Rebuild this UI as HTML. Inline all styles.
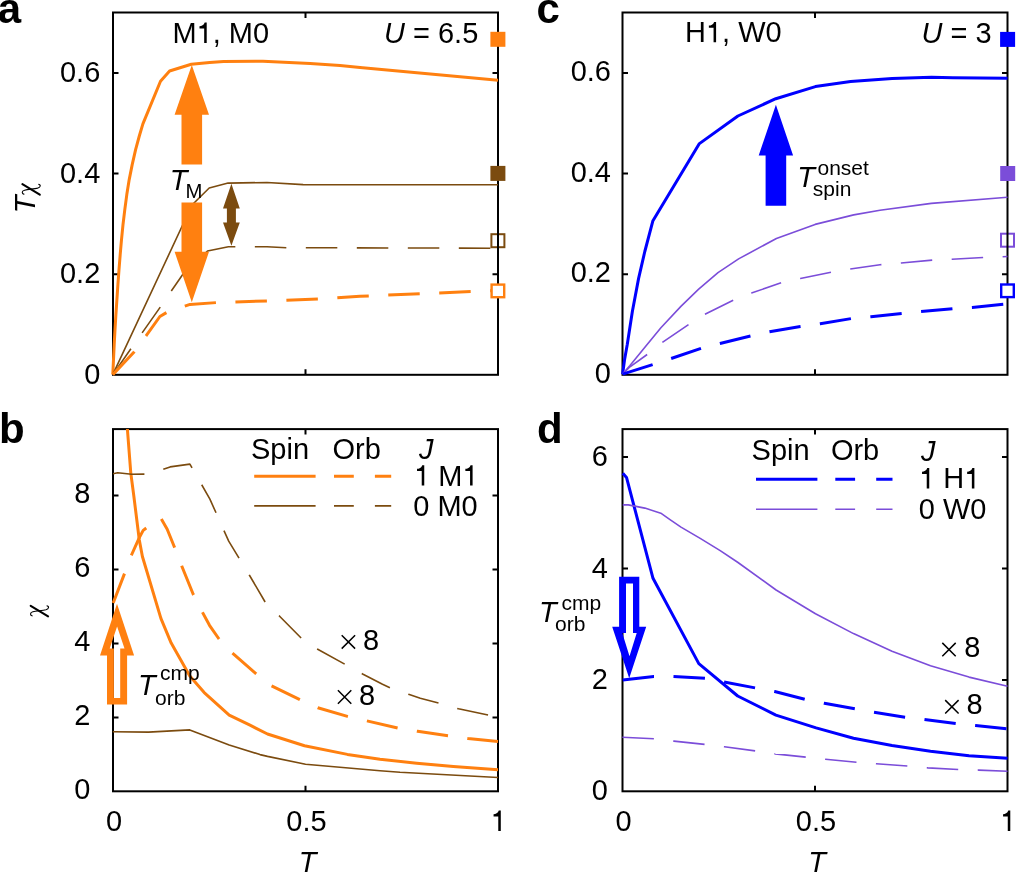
<!DOCTYPE html>
<html><head><meta charset="utf-8"><style>
html,body{margin:0;padding:0;background:#fff;overflow:hidden}
svg{display:block;will-change:transform}
text{font-family:"Liberation Sans", sans-serif;fill:#000}
</style></head><body>
<svg width="1016" height="873" viewBox="0 0 1016 873">
<rect width="1016" height="873" fill="#fff"/>
<defs>
<clipPath id="cb"><rect x="100" y="428.9" width="410" height="380"/></clipPath>
</defs>
<rect x="491.4" y="234.2" width="13" height="13" fill="none" stroke="#7b4b0f" stroke-width="2"/>
<rect x="1001" y="233.7" width="13" height="13" fill="none" stroke="#7b4dd9" stroke-width="2"/>
<rect x="113.0" y="12.5" width="385.0" height="362.3" fill="none" stroke="#000" stroke-width="2"/>
<path d="M113.0,274.2 h5.5 M498.0,274.2 h-5.5" stroke="#000" stroke-width="2"/>
<path d="M113.0,173.6 h5.5 M498.0,173.6 h-5.5" stroke="#000" stroke-width="2"/>
<path d="M113.0,72.9 h5.5 M498.0,72.9 h-5.5" stroke="#000" stroke-width="2"/>
<path d="M305.5,374.8 v-5.5 M305.5,12.5 v5.5" stroke="#000" stroke-width="2"/>
<rect x="622.5" y="12.5" width="385.0" height="362.3" fill="none" stroke="#000" stroke-width="2"/>
<path d="M622.5,274.2 h5.5 M1007.5,274.2 h-5.5" stroke="#000" stroke-width="2"/>
<path d="M622.5,173.6 h5.5 M1007.5,173.6 h-5.5" stroke="#000" stroke-width="2"/>
<path d="M622.5,72.9 h5.5 M1007.5,72.9 h-5.5" stroke="#000" stroke-width="2"/>
<path d="M815.0,374.8 v-5.5 M815.0,12.5 v5.5" stroke="#000" stroke-width="2"/>
<rect x="113.0" y="429.1" width="385.0" height="362.2" fill="none" stroke="#000" stroke-width="2"/>
<path d="M113.0,717.4 h5.5 M498.0,717.4 h-5.5" stroke="#000" stroke-width="2"/>
<path d="M113.0,643.4 h5.5 M498.0,643.4 h-5.5" stroke="#000" stroke-width="2"/>
<path d="M113.0,569.5 h5.5 M498.0,569.5 h-5.5" stroke="#000" stroke-width="2"/>
<path d="M113.0,495.5 h5.5 M498.0,495.5 h-5.5" stroke="#000" stroke-width="2"/>
<path d="M305.5,791.3 v-5.5 M305.5,429.1 v5.5" stroke="#000" stroke-width="2"/>
<rect x="622.5" y="429.1" width="385.0" height="362.2" fill="none" stroke="#000" stroke-width="2"/>
<path d="M622.5,679.9 h5.5 M1007.5,679.9 h-5.5" stroke="#000" stroke-width="2"/>
<path d="M622.5,568.5 h5.5 M1007.5,568.5 h-5.5" stroke="#000" stroke-width="2"/>
<path d="M622.5,457.1 h5.5 M1007.5,457.1 h-5.5" stroke="#000" stroke-width="2"/>
<path d="M815.0,791.3 v-5.5 M815.0,429.1 v5.5" stroke="#000" stroke-width="2"/>
<path d="M112.8,374.6 L113.5,359.6 L114.2,344.6 L115.0,329.6 L115.9,314.6 L116.9,299.6 L117.9,284.6 L119.0,269.6 L120.2,254.6 L121.5,239.6 L123.0,224.6 L124.8,209.6 L126.8,194.6 L129.2,179.6 L132.2,164.6 L135.6,149.6 L139.3,136.0 L142.9,123.9 L160.5,81.2 L169.6,71.0 L191.3,64.3 L209.7,62.6 L223.6,61.6 L263.0,61.3 L310.2,63.6 L340.0,65.4 L360.0,67.6 L498.0,80.2" fill="none" stroke="#ff8010" stroke-width="3.00" stroke-linejoin="round"/>
<path d="M112.8,374.6 L192.0,205.0 L209.2,188.0 L228.1,183.1 L267.0,182.5 L303.1,184.6 L498.0,184.8" fill="none" stroke="#7b4b0f" stroke-width="1.60" stroke-linejoin="round"/>
<path d="M112.8,374.6 L160.4,306.9 L182.2,275.2 L207.5,251.0 L228.4,246.8 L267.0,246.8 L286.8,247.7 L498.0,248.2" fill="none" stroke="#7b4b0f" stroke-width="1.60" stroke-linejoin="round" stroke-dasharray="31.5 19.5" stroke-dashoffset="0.0"/>
<path d="M112.8,374.6 L134.3,351.7 L146.2,335.7 L159.9,316.5 L166.8,312.4 L190.0,304.4 L216.3,302.6 L267.0,300.9 L318.6,298.9 L360.0,296.3 L420.8,293.7 L498.0,290.3" fill="none" stroke="#ff8010" stroke-width="3.00" stroke-linejoin="round" stroke-dasharray="31.5 19.5" stroke-dashoffset="0.0"/>
<path d="M622.6,374.3 L624.5,360.0 L627.3,344.3 L632.4,311.3 L638.6,278.4 L644.8,251.5 L652.8,221.1 L699.4,143.6 L737.9,116.0 L775.8,98.7 L815.4,86.6 L850.6,81.5 L892.2,78.6 L931.5,77.2 L952.9,77.7 L1007.5,78.2" fill="none" stroke="#0000ff" stroke-width="3.00" stroke-linejoin="round"/>
<path d="M622.6,374.1 L630.0,365.5 L645.1,346.9 L660.9,327.7 L680.9,306.4 L698.7,289.2 L718.0,272.7 L738.6,258.9 L776.4,238.5 L815.1,224.4 L853.7,214.9 L880.0,210.3 L931.3,203.4 L1007.5,197.2" fill="none" stroke="#7b4dd9" stroke-width="1.60" stroke-linejoin="round"/>
<path d="M622.6,374.1 L630.0,366.8 L647.2,354.5 L662.3,342.4 L688.8,324.5 L704.9,314.3 L733.4,300.2 L751.5,293.1 L781.2,282.8 L800.4,278.5 L831.4,272.1 L850.3,269.0 L880.0,264.7 L901.2,263.0 L932.7,260.1 L951.9,259.2 L983.7,257.5 L1007.5,256.5" fill="none" stroke="#7b4dd9" stroke-width="1.60" stroke-linejoin="round" stroke-dasharray="31.5 19.5" stroke-dashoffset="0.0"/>
<path d="M622.6,374.1 L652.7,364.6 L671.0,358.6 L701.2,348.3 L720.0,343.5 L750.6,336.0 L769.5,331.8 L800.4,326.6 L820.2,323.7 L851.6,318.5 L870.9,316.8 L902.1,313.4 L921.0,311.6 L953.1,308.6 L972.2,307.4 L1007.5,303.9" fill="none" stroke="#0000ff" stroke-width="3.00" stroke-linejoin="round" stroke-dasharray="31.5 19.5" stroke-dashoffset="0.0"/>
<path d="M126.5,420.0 L127.4,429.1 L130.8,473.1 L133.7,495.0 L139.3,540.0 L142.4,556.5 L160.9,618.4 L171.2,643.1 L189.8,676.1 L204.2,692.6 L229.2,715.2 L250.0,725.2 L267.5,734.0 L304.5,745.7 L347.4,754.4 L380.0,759.2 L416.7,763.2 L453.3,766.5 L498.0,769.8" fill="none" stroke="#ff8010" stroke-width="3.00" stroke-linejoin="round" clip-path="url(#cb)"/>
<path d="M112.8,731.7 L148.5,732.1 L189.8,729.9 L229.2,744.9 L260.0,754.6 L267.5,756.4 L305.5,764.2 L380.0,770.7 L400.0,772.3 L498.0,777.5" fill="none" stroke="#7b4b0f" stroke-width="1.60" stroke-linejoin="round" clip-path="url(#cb)"/>
<path d="M113.1,473.8 L117.7,472.8 L131.6,474.2 L144.7,474.1 L163.2,469.3 L170.1,466.9 L189.9,464.1 L209.9,499.1 L228.7,541.2 L239.2,558.5 L249.3,575.0 L266.0,603.5 L279.6,616.2 L305.5,642.5 L317.7,649.2 L345.5,664.6 L362.6,674.0 L382.5,684.3 L391.1,688.2 L409.3,694.5 L420.3,698.3 L439.6,703.3 L458.5,708.8 L498.0,717.0" fill="none" stroke="#7b4b0f" stroke-width="1.60" stroke-linejoin="round" stroke-dasharray="31.5 19.5" stroke-dashoffset="0.0" clip-path="url(#cb)"/>
<path d="M113.2,603.0 L124.6,573.3 L131.5,555.0 L139.2,537.8 L143.2,530.4 L146.6,527.8 L160.4,517.5 L167.2,529.2 L174.4,547.0 L181.6,565.7 L193.3,594.5 L202.5,612.4 L209.5,625.3 L219.0,639.0 L232.4,653.1 L256.2,673.8 L271.4,685.8 L300.3,699.9 L317.8,707.7 L347.4,716.4 L366.9,720.9 L398.0,728.1 L417.6,731.3 L448.4,735.7 L468.0,738.5 L498.0,741.4" fill="none" stroke="#ff8010" stroke-width="3.00" stroke-linejoin="round" stroke-dasharray="31.5 19.5" stroke-dashoffset="0.0" clip-path="url(#cb)"/>
<path d="M622.8,473.3 L626.5,477.4 L653.0,578.3 L698.8,663.6 L737.7,696.0 L775.9,715.1 L816.1,727.9 L853.5,738.2 L892.0,745.5 L930.5,751.2 L969.0,755.7 L1007.5,758.2" fill="none" stroke="#0000ff" stroke-width="3.00" stroke-linejoin="round"/>
<path d="M622.8,504.9 L628.3,504.9 L644.8,508.1 L660.8,513.2 L670.0,519.6 L681.0,527.1 L700.2,538.4 L720.2,550.6 L738.0,562.5 L776.1,590.0 L815.5,613.8 L853.5,633.6 L892.0,651.2 L930.5,665.8 L969.0,677.1 L1007.5,686.3" fill="none" stroke="#7b4dd9" stroke-width="1.60" stroke-linejoin="round"/>
<path d="M622.4,737.3 L654.3,738.7 L673.9,741.1 L705.0,744.4 L724.4,746.8 L755.8,751.0 L775.2,753.9 L806.6,757.2 L825.5,759.3 L857.4,762.4 L876.3,763.7 L908.4,766.0 L927.9,767.9 L958.8,769.5 L978.7,770.1 L1007.5,771.3" fill="none" stroke="#7b4dd9" stroke-width="1.60" stroke-linejoin="round" stroke-dasharray="31.5 19.5" stroke-dashoffset="0.0"/>
<path d="M622.7,680.0 L653.9,676.4 L673.2,676.6 L705.0,678.3 L724.0,682.0 L755.8,688.0 L774.7,691.5 L805.4,699.5 L824.3,703.3 L855.8,709.0 L874.0,712.2 L905.0,717.2 L924.4,719.5 L956.5,723.7 L975.5,725.5 L1007.5,728.9" fill="none" stroke="#0000ff" stroke-width="3.00" stroke-linejoin="round" stroke-dasharray="31.5 19.5" stroke-dashoffset="0.0"/>
<rect x="490.4" y="31.8" width="15" height="15" fill="#ff8010"/>
<rect x="490.4" y="165.9" width="15" height="15" fill="#7b4b0f"/>
<rect x="491.60" y="284.60" width="12.60" height="12.60" fill="#fff" stroke="#ff8010" stroke-width="2.4"/>
<rect x="1000.1" y="31.9" width="15" height="15" fill="#0000ff"/>
<rect x="1000.2" y="166.0" width="15" height="15" fill="#7b4dd9"/>
<rect x="1001.20" y="284.50" width="12.60" height="12.60" fill="#fff" stroke="#0000ff" stroke-width="2.4"/>
<polygon points="191.8,64.9 209.0,114.7 202.1,114.7 202.1,164.6 181.5,164.6 181.5,114.7 174.6,114.7" fill="#ff8010"/>
<polygon points="191.8,302.2 209.0,251.8 202.1,251.8 202.1,202.4 181.5,202.4 181.5,251.8 174.6,251.8" fill="#ff8010"/>
<polygon points="775.9,104.7 793.1,155.4 786.2,155.4 786.2,205.7 765.6,205.7 765.6,155.4 758.7,155.4" fill="#0000ff"/>
<polygon points="231.4,183.7 239.8,208.4 235.9,208.4 235.9,222.6 239.8,222.6 231.4,245.8 223.0,222.6 226.9,222.6 226.9,208.4 223.0,208.4" fill="#7b4b0f"/>
<path d="M117.0,603.8 L134.1,655.4 L127.1,655.4 L127.1,704.5 L107.0,704.5 L107.0,655.4 L100.0,655.4 Z M117.1,626.4 L124.5,648.5 L120.2,648.5 L120.2,698.0 L113.9,698.0 L113.9,648.5 L109.7,648.5 Z" fill="#ff8010" fill-rule="evenodd"/>
<path d="M629.2,678.2 L646.2,626.8 L639.3,626.8 L639.3,576.7 L619.1,576.7 L619.1,626.8 L612.2,626.8 Z M629.5,656.3 L636.7,633.0 L633.0,633.0 L633.0,583.5 L626.0,583.5 L626.0,633.0 L622.3,633.0 Z" fill="#0000ff" fill-rule="evenodd"/>
<path d="M254.2,476.2 h61.4" stroke="#ff8010" stroke-width="3.0"/>
<path d="M254.2,505.9 h61.4" stroke="#7b4b0f" stroke-width="1.6"/>
<path d="M334.0,476.2 h57.2" stroke="#ff8010" stroke-width="3.0" stroke-dasharray="19.8 21.1"/>
<path d="M334.0,505.9 h57.2" stroke="#7b4b0f" stroke-width="1.6" stroke-dasharray="19.8 21.1"/>
<path d="M756.0,479.2 h61.4" stroke="#0000ff" stroke-width="3.0"/>
<path d="M756.0,509.2 h61.4" stroke="#7b4dd9" stroke-width="1.6"/>
<path d="M835.3,479.2 h57.2" stroke="#0000ff" stroke-width="3.0" stroke-dasharray="19.8 21.1"/>
<path d="M835.3,509.2 h57.2" stroke="#7b4dd9" stroke-width="1.6" stroke-dasharray="19.8 21.1"/>
<text x="-2.3" y="22.6" font-size="42.0" text-anchor="start" font-weight="bold">a</text>
<text x="-1.1" y="443.2" font-size="42.0" text-anchor="start" font-weight="bold">b</text>
<text x="536.5" y="22.6" font-size="42.0" text-anchor="start" font-weight="bold">c</text>
<text x="537.0" y="443.2" font-size="42.0" text-anchor="start" font-weight="bold">d</text>
<text transform="translate(100.3,383.8) scale(1,1.035)" font-size="29.0" text-anchor="end">0</text>
<text transform="translate(100.3,283.2) scale(1,1.035)" font-size="29.0" text-anchor="end">0.2</text>
<text transform="translate(100.3,182.6) scale(1,1.035)" font-size="29.0" text-anchor="end">0.4</text>
<text transform="translate(100.3,81.9) scale(1,1.035)" font-size="29.0" text-anchor="end">0.6</text>
<text transform="translate(611.0,382.8) scale(1,1.035)" font-size="29.0" text-anchor="end">0</text>
<text transform="translate(611.0,282.2) scale(1,1.035)" font-size="29.0" text-anchor="end">0.2</text>
<text transform="translate(611.0,181.6) scale(1,1.035)" font-size="29.0" text-anchor="end">0.4</text>
<text transform="translate(611.0,80.9) scale(1,1.035)" font-size="29.0" text-anchor="end">0.6</text>
<text transform="translate(90.5,799.1) scale(1,1.035)" font-size="29.0" text-anchor="end">0</text>
<text transform="translate(90.5,725.2) scale(1,1.035)" font-size="29.0" text-anchor="end">2</text>
<text transform="translate(90.5,651.2) scale(1,1.035)" font-size="29.0" text-anchor="end">4</text>
<text transform="translate(90.5,577.3) scale(1,1.035)" font-size="29.0" text-anchor="end">6</text>
<text transform="translate(90.5,503.3) scale(1,1.035)" font-size="29.0" text-anchor="end">8</text>
<text transform="translate(607.8,800.3) scale(1,1.035)" font-size="29.0" text-anchor="end">0</text>
<text transform="translate(607.8,688.9) scale(1,1.035)" font-size="29.0" text-anchor="end">2</text>
<text transform="translate(607.8,577.5) scale(1,1.035)" font-size="29.0" text-anchor="end">4</text>
<text transform="translate(607.8,466.1) scale(1,1.035)" font-size="29.0" text-anchor="end">6</text>
<text transform="translate(114.0,831.0) scale(1,1.035)" font-size="29.0" text-anchor="middle">0</text>
<text transform="translate(306.4,831.0) scale(1,1.035)" font-size="29.0" text-anchor="middle">0.5</text>
<path transform="translate(490.64,831.00) scale(0.0290,-0.0290)" d="M350,703 L281,703 C255,612 170,582 101,578 L101,500 L263,500 L263,0 L350,0 Z" fill="#000"/>
<text transform="translate(307.5,871.6) scale(1,1.035)" font-size="29.0" text-anchor="middle" font-style="italic">T</text>
<text transform="translate(623.5,831.0) scale(1,1.035)" font-size="29.0" text-anchor="middle">0</text>
<text transform="translate(815.9,831.0) scale(1,1.035)" font-size="29.0" text-anchor="middle">0.5</text>
<path transform="translate(1000.14,831.00) scale(0.0290,-0.0290)" d="M350,703 L281,703 C255,612 170,582 101,578 L101,500 L263,500 L263,0 L350,0 Z" fill="#000"/>
<text transform="translate(817.0,871.6) scale(1,1.035)" font-size="29.0" text-anchor="middle" font-style="italic">T</text>
<text transform="translate(34.8,213.3) rotate(-90)" font-size="29" font-style="italic">T</text>
<path d="M22.4,184.2 l17.4,10.5" stroke="#000" stroke-width="2.1" stroke-linecap="round"/>
<path transform="translate(22.1,184.0)" d="M2.2,10.4 C-0.6,9.7 -0.6,6.9 2.5,6.2 C6,5.5 12,4.8 15.5,4.1 C18.9,3.3 18.9,0.5 16.2,0.2" fill="none" stroke="#000" stroke-width="1.1"/>
<path d="M30.7,605.8 l17.4,10.5" stroke="#000" stroke-width="2.1" stroke-linecap="round"/>
<path transform="translate(30.4,605.6)" d="M2.2,10.4 C-0.6,9.7 -0.6,6.9 2.5,6.2 C6,5.5 12,4.8 15.5,4.1 C18.9,3.3 18.9,0.5 16.2,0.2" fill="none" stroke="#000" stroke-width="1.1"/>
<text transform="translate(172.40,43.00) scale(1,1.035)" font-size="29.0" xml:space="preserve">M</text>
<path transform="translate(196.56,43.00) scale(0.0290,-0.0290)" d="M350,703 L281,703 C255,612 170,582 101,578 L101,500 L263,500 L263,0 L350,0 Z" fill="#000"/>
<text transform="translate(212.69,43.00) scale(1,1.035)" font-size="29.0" xml:space="preserve">, M0</text>
<text transform="translate(384.0,43.3) scale(1,1.035)" font-size="29.0" text-anchor="start"><tspan font-style="italic">U</tspan> = 6.5</text>
<text transform="translate(685.00,42.30) scale(1,1.035)" font-size="29.0" xml:space="preserve">H</text>
<path transform="translate(705.94,42.30) scale(0.0290,-0.0290)" d="M350,703 L281,703 C255,612 170,582 101,578 L101,500 L263,500 L263,0 L350,0 Z" fill="#000"/>
<text transform="translate(722.07,42.30) scale(1,1.035)" font-size="29.0" xml:space="preserve">, W0</text>
<text transform="translate(921.6,43.0) scale(1,1.035)" font-size="29.0" text-anchor="start"><tspan font-style="italic">U</tspan> = 3</text>
<text transform="translate(169.7,189.9) scale(1,1.035)" font-size="29.0" text-anchor="start" font-style="italic">T</text>
<text transform="translate(185.5,198.2) scale(1,1.035)" font-size="20.3" text-anchor="start">M</text>
<text transform="translate(797.2,187.0) scale(1,1.035)" font-size="29.0" text-anchor="start" font-style="italic">T</text>
<text x="817.5" y="175.2" font-size="21.0" text-anchor="start">onset</text>
<text x="812.8" y="195.6" font-size="21.0" text-anchor="start">spin</text>
<text transform="translate(137.9,695.1) scale(1,1.035)" font-size="29.0" text-anchor="start" font-style="italic">T</text>
<text x="160.0" y="680.0" font-size="21.0" text-anchor="start">cmp</text>
<text x="155.0" y="704.5" font-size="21.0" text-anchor="start">orb</text>
<text transform="translate(539.0,622.0) scale(1,1.035)" font-size="29.0" text-anchor="start" font-style="italic">T</text>
<text x="561.5" y="609.9" font-size="21.0" text-anchor="start">cmp</text>
<text x="555.1" y="630.5" font-size="21.0" text-anchor="start">orb</text>
<text x="251.0" y="458.6" font-size="29.0" text-anchor="start">Spin</text>
<text x="332.5" y="458.6" font-size="29.0" text-anchor="start">Orb</text>
<text transform="translate(419.0,458.6) scale(1,1.035)" font-size="29.0" text-anchor="start" font-style="italic">J</text>
<path transform="translate(414.10,485.60) scale(0.0290,-0.0290)" d="M350,703 L281,703 C255,612 170,582 101,578 L101,500 L263,500 L263,0 L350,0 Z" fill="#000"/>
<text transform="translate(430.23,485.60) scale(1,1.035)" font-size="29.0" xml:space="preserve"> M</text>
<path transform="translate(462.44,485.60) scale(0.0290,-0.0290)" d="M350,703 L281,703 C255,612 170,582 101,578 L101,500 L263,500 L263,0 L350,0 Z" fill="#000"/>
<text transform="translate(413.3,515.5) scale(1,1.035)" font-size="29.0" text-anchor="start">0 M0</text>
<text x="751.6" y="460.4" font-size="29.0" text-anchor="start">Spin</text>
<text x="830.9" y="460.4" font-size="29.0" text-anchor="start">Orb</text>
<text transform="translate(921.0,461.0) scale(1,1.035)" font-size="29.0" text-anchor="start" font-style="italic">J</text>
<path transform="translate(919.10,488.40) scale(0.0290,-0.0290)" d="M350,703 L281,703 C255,612 170,582 101,578 L101,500 L263,500 L263,0 L350,0 Z" fill="#000"/>
<text transform="translate(935.23,488.40) scale(1,1.035)" font-size="29.0" xml:space="preserve"> H</text>
<path transform="translate(964.23,488.40) scale(0.0290,-0.0290)" d="M350,703 L281,703 C255,612 170,582 101,578 L101,500 L263,500 L263,0 L350,0 Z" fill="#000"/>
<text transform="translate(918.8,519.2) scale(1,1.035)" font-size="29.0" text-anchor="start">0 W0</text>
<path d="M341.7,635.2 l13.4,13.4 M355.1,635.2 l-13.4,13.4" stroke="#000" stroke-width="1.5"/>
<text transform="translate(363.0,650.2) scale(1,1.035)" font-size="29.0" text-anchor="start">8</text>
<path d="M337.9,690.3 l13.4,13.4 M351.3,690.3 l-13.4,13.4" stroke="#000" stroke-width="1.5"/>
<text transform="translate(359.0,705.2) scale(1,1.035)" font-size="29.0" text-anchor="start">8</text>
<path d="M942.3,642.9 l13.4,13.4 M955.7,642.9 l-13.4,13.4" stroke="#000" stroke-width="1.5"/>
<text transform="translate(964.2,657.0) scale(1,1.035)" font-size="29.0" text-anchor="start">8</text>
<path d="M945.2,700.1 l13.4,13.4 M958.6,700.1 l-13.4,13.4" stroke="#000" stroke-width="1.5"/>
<text transform="translate(966.5,714.3) scale(1,1.035)" font-size="29.0" text-anchor="start">8</text>
</svg>
</body></html>
